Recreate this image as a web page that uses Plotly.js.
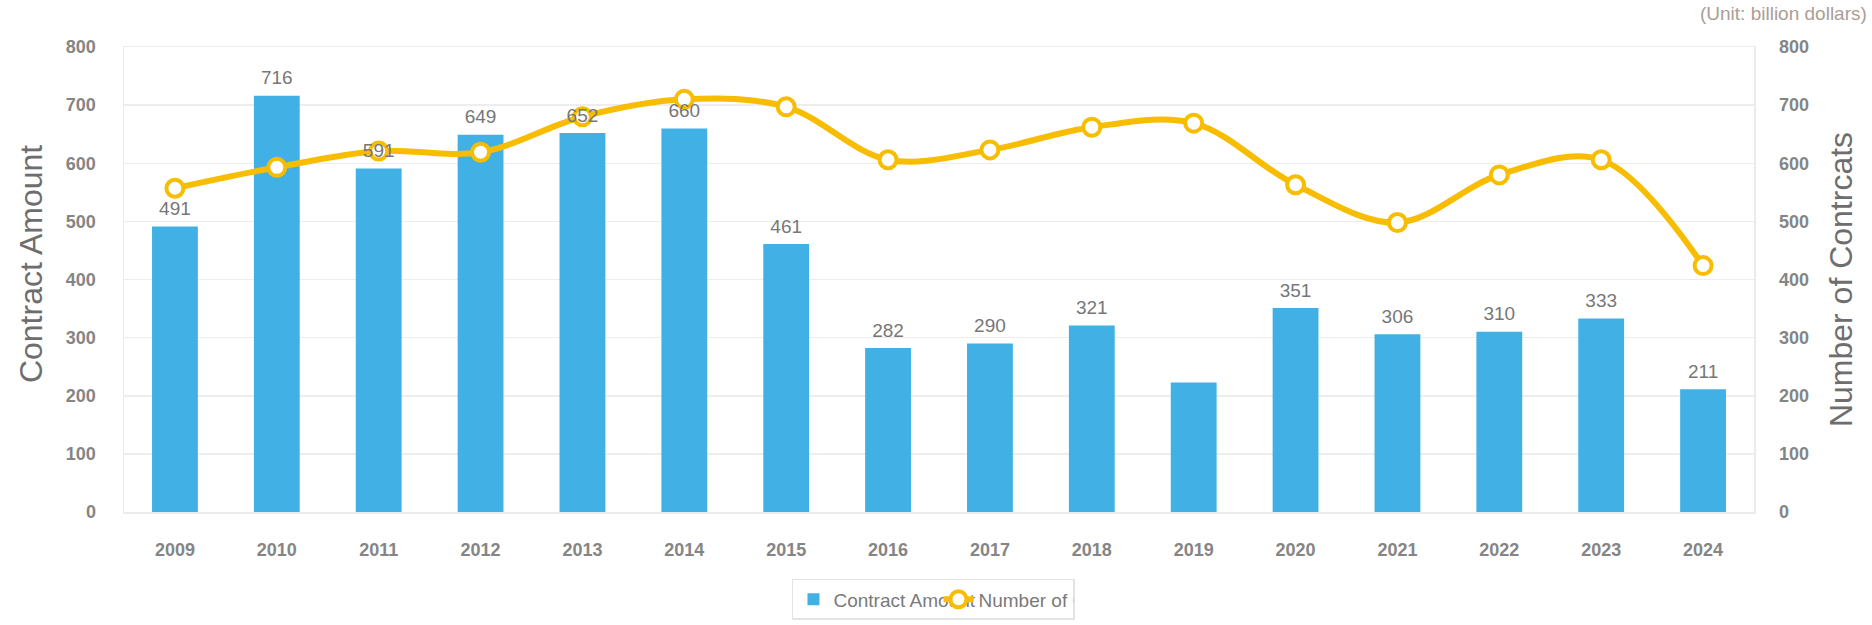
<!DOCTYPE html>
<html>
<head>
<meta charset="utf-8">
<script src="https://cdn.plot.ly/plotly-3.0.1.min.js"></script>
<style>
  html, body { margin: 0; padding: 0; background: #ffffff; }
  #chart { width: 1872px; height: 625px; }
</style>
</head>
<body>
<div id="chart"></div>
<script>
// ---- Data ----
const years = ["2009","2010","2011","2012","2013","2014","2015","2016","2017","2018","2019","2020","2021","2022","2023","2024"];
const contractAmount = [491, 716, 591, 649, 652, 660, 461, 282, 290, 321, 223, 351, 306, 310, 333, 211];
// value labels as printed in the reference (2019 has no label there)
const barLabels = ["491","716","591","649","652","660","461","282","290","321","","351","306","310","333","211"];
const numberOfContracts = [557, 593, 621, 619, 680, 710, 697, 606, 623, 662, 669, 563, 498, 580, 606, 424];
const yTickVals = [0, 100, 200, 300, 400, 500, 600, 700, 800];

const FONT = "Liberation Sans, Arial, Helvetica, sans-serif";
const BAR_COLOR = "#41b1e5";
const LINE_COLOR = "#f8bc00";
const TICK_COLOR = "#858585";
const TITLE_COLOR = "#6e6e6e";

const traces = [
  {
    type: "bar",
    name: "Contract Amount",
    x: years,
    y: contractAmount,
    yaxis: "y",
    marker: { color: BAR_COLOR },
    width: 0.45,
    legendwidth: 100,
    hoverinfo: "x+y"
  },
  {
    type: "scatter",
    mode: "lines+markers",
    name: "Number of Contrcats",
    x: years,
    y: numberOfContracts,
    yaxis: "y2",
    line: { color: LINE_COLOR, width: 6, shape: "spline", smoothing: 1 },
    marker: { symbol: "circle", size: 17, color: "#ffffff", line: { color: LINE_COLOR, width: 4 } },
    legendwidth: 90,
    hoverinfo: "x+y"
  },
  {
    // bar value labels, drawn above the line like in the reference
    type: "scatter",
    mode: "markers+text",
    x: years,
    y: contractAmount,
    yaxis: "y2",
    text: barLabels,
    textposition: "top center",
    textfont: { family: FONT, size: 19, color: "#777777" },
    marker: { size: 9, opacity: 0, color: "#ffffff" },
    showlegend: false,
    hoverinfo: "skip",
    cliponaxis: false
  }
];

const layout = {
  width: 1872,
  height: 625,
  paper_bgcolor: "#ffffff",
  plot_bgcolor: "#ffffff",
  font: { family: FONT, size: 19, color: TICK_COLOR },
  margin: { l: 124, r: 118, t: 47, b: 113, pad: 0, autoexpand: false },
  showlegend: true,
  bargap: 0.55,
  xaxis: {
    type: "category",
    range: [-0.5, 15.5],
    tickvals: years,
    ticktext: years,
    showgrid: false,
    showline: true,
    mirror: true,
    linecolor: "#ebebeb",
    linewidth: 1.5,
    ticks: "",
    ticklabelstandoff: 21,
    tickfont: { family: FONT, size: 18, color: TICK_COLOR, weight: "bold" },
    automargin: false,
    fixedrange: true
  },
  yaxis: {
    range: [0, 800],
    tickvals: yTickVals,
    showgrid: true,
    gridcolor: "#ededed",
    gridwidth: 1.5,
    zeroline: false,
    showline: true,
    mirror: true,
    linecolor: "#ebebeb",
    linewidth: 1.5,
    ticks: "",
    ticklabelstandoff: 23,
    tickfont: { family: FONT, size: 18, color: TICK_COLOR, weight: "bold" },
    automargin: false,
    fixedrange: true
  },
  yaxis2: {
    range: [0, 800],
    tickvals: yTickVals,
    overlaying: "y",
    side: "right",
    showgrid: false,
    zeroline: false,
    showline: false,
    ticks: "",
    ticklabelstandoff: 24,
    tickfont: { family: FONT, size: 18, color: TICK_COLOR, weight: "bold" },
    title: { text: "Number of Contrcats", standoff: 21, font: { family: FONT, size: 32, color: TITLE_COLOR } },
    automargin: false,
    fixedrange: true
  },
  legend: {
    orientation: "h",
    x: 0.4098,
    xanchor: "left",
    y: -0.144,
    yanchor: "top",
    bgcolor: "#ffffff",
    bordercolor: "#e3e3e3",
    borderwidth: 1.5,
    font: { family: FONT, size: 19, color: "#7a7a7a" }
  },
  annotations: [
    {
      // left axis title
      xref: "paper",
      yref: "paper",
      x: -0.0571,
      y: 0.533,
      xanchor: "center",
      yanchor: "middle",
      textangle: -90,
      showarrow: false,
      text: "Contract Amount",
      font: { family: FONT, size: 32, color: TITLE_COLOR }
    },
    {
      xref: "paper",
      yref: "paper",
      x: 1.0706,
      y: 1.071,
      xanchor: "right",
      yanchor: "middle",
      showarrow: false,
      text: "(Unit: billion dollars)",
      font: { family: FONT, size: 19, color: "#aa9e94" }
    }
  ]
};

Plotly.newPlot("chart", traces, layout, { displayModeBar: false, staticPlot: true });
</script>
</body>
</html>
